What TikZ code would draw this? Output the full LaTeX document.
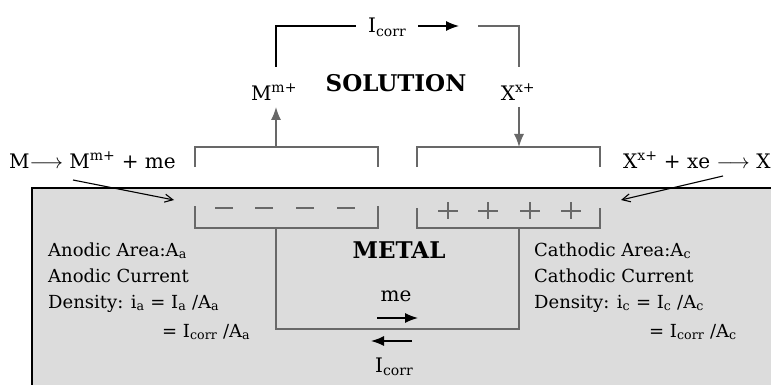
\documentclass[tikz,border=0pt]{standalone}
\usepackage{fontspec}
\setmainfont{DejaVu Serif}
\usetikzlibrary{arrows.meta}
\definecolor{metalgray}{HTML}{DCDCDC}
\definecolor{brk}{HTML}{686868}
\begin{document}
\begin{tikzpicture}[x=1pt,y=-1pt,
  txt/.style={inner sep=0pt, font=\fontsize{18}{22}\selectfont},
  eqtxt/.style={inner sep=0pt, font=\fontsize{20}{24}\selectfont},
  bigtxt/.style={inner sep=0pt, font=\fontsize{20}{24}\selectfont},
  boldtxt/.style={inner sep=0pt, font=\fontsize{23}{27}\selectfont\bfseries},
  brkline/.style={draw=brk, line width=2pt},
  loopline/.style={draw=black, line width=1.2pt},
  fillarrow/.style={-{Latex[length=13pt,width=10pt]}, line width=1.4pt},
  thinarrow/.style={-{Straight Barb[length=8pt,width=8pt]}, line width=1.1pt}]
\useasboundingbox (0,0) rectangle (771,385);
\clip (0,0) rectangle (771,385);
% metal block
\fill[metalgray] (32,188) rectangle (790,400);
\draw[line width=1.3pt] (32,400) -- (32,188) -- (790,188);
% coordinates
\coordinate (aTop) at (276,147);
\coordinate (aBot) at (276,228);
\coordinate (cTop) at (519,147);
\coordinate (cBot) at (519,228);
\coordinate (mUp) at (276,107);
\coordinate (mLoop) at (276,67);
\coordinate (loopTL) at (276,26);
\coordinate (loopL) at (356,26);
\coordinate (loopR) at (478,26);
\coordinate (loopTR) at (519,26);
\coordinate (xLoop) at (519,67);
\coordinate (xDown) at (519,107);
\coordinate (circBL) at (276,329);
\coordinate (circBR) at (519,329);
% solution-side brackets
\draw[brkline] (195,167) -- (195,147) -- (378,147) -- (378,167);
\draw[brkline] (417,167) -- (417,147) -- (600,147) -- (600,167);
% metal-side brackets
\draw[brkline] (195,206) -- (195,228) -- (378,228) -- (378,206);
\draw[brkline] (417,208) -- (417,228) -- (600,228) -- (600,208);
% charges
\foreach \x in {224,264,305,346} \draw[brkline] (\x-9,208) -- (\x+9,208);
\foreach \x in {448,488,530,571} {\draw[brkline] (\x-10,210.5) -- (\x+10,210.5); \draw[brkline] (\x,202) -- (\x,219);}
% metal circuit
\draw[brkline] (aBot) -- (circBL) -- (circBR) -- (cBot);
% texts
\node[boldtxt] (solution) at (396,83) {SOLUTION};
\node[boldtxt] (metal) at (399,250) {METAL};
\node[eqtxt] (mion) at (274,92) {M\textsuperscript{m+}};
\node[eqtxt] (xion) at (518,92) {X\textsuperscript{x+}};
\node[eqtxt, anchor=base west] (icorrtop) at (368,33) {I\textsubscript{corr}};
\node[eqtxt, anchor=base west] (anodeq) at (9,168) {M$\longrightarrow$ M\textsuperscript{m+} + me};
\node[eqtxt, anchor=base west] (cathodeq) at (623,168) {X\textsuperscript{x+} + xe $\longrightarrow$ X};
\node[txt, anchor=base west] (an1) at (48,256) {Anodic Area:A\textsubscript{a}};
\node[txt, anchor=base west] (an2) at (48,282) {Anodic Current};
\node[txt, anchor=base west] (an3) at (48,308) {Density: i\textsubscript{a} = I\textsubscript{a} /A\textsubscript{a}};
\node[txt, anchor=base west] (an4) at (162,337) {= I\textsubscript{corr} /A\textsubscript{a}};
\node[txt, anchor=base west] (ca1) at (534,256) {Cathodic Area:A\textsubscript{c}};
\node[txt, anchor=base west] (ca2) at (534,282) {Cathodic Current};
\node[txt, anchor=base west] (ca3) at (534,308) {Density: i\textsubscript{c} = I\textsubscript{c} /A\textsubscript{c}};
\node[txt, anchor=base west] (ca4) at (649,337) {= I\textsubscript{corr} /A\textsubscript{c}};
\node[bigtxt] (me) at (396,296) {me};
\node[bigtxt, anchor=base west] (icorrbot) at (375,372) {I\textsubscript{corr}};
% connectors
\draw[fillarrow, draw=brk] (aTop) -- (mUp);
\draw[loopline] (mLoop) -- (loopTL) -- (loopL);
\coordinate (iArrS) at (418,26);
\coordinate (iArrE) at (459,26);
\draw[fillarrow] (iArrS) -- (iArrE);
\draw[loopline, draw=brk] (loopR) -- (loopTR) -- (xLoop);
\draw[fillarrow, draw=brk] (xDown) -- (cTop);
\coordinate (meS) at (377,318);
\coordinate (meE) at (418,318);
\draw[fillarrow] (meS) -- (meE);
\coordinate (icS) at (412,341);
\coordinate (icE) at (371,341);
\draw[fillarrow] (icS) -- (icE);
\coordinate (lS) at (73,180);
\coordinate (lE) at (174,200);
\draw[thinarrow] (lS) -- (lE);
\coordinate (rS) at (723,176);
\coordinate (rE) at (621,200);
\draw[thinarrow] (rS) -- (rE);
\end{tikzpicture}
\end{document}
